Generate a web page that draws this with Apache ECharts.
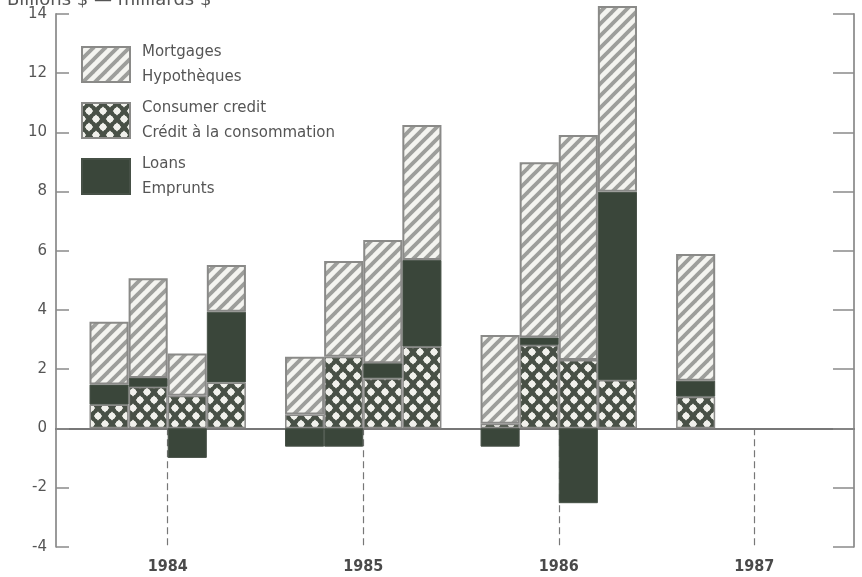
<!DOCTYPE html>
<html>
<head>
<meta charset="utf-8">
<script src="https://cdn.jsdelivr.net/npm/echarts@6/dist/echarts.min.js"></script>
<style>
  html, body { margin: 0; padding: 0; background: #ffffff; }
  #chart { width: 862px; height: 577px; }
</style>
</head>
<body>
<div id="chart"></div>
<script>
// ---------------- DATA ----------------
// One slot per quarter; an empty slot separates the years.
const categories = [
  '1984 Q1', '1984 Q2', '1984 Q3', '1984 Q4', '',
  '1985 Q1', '1985 Q2', '1985 Q3', '1985 Q4', ' ',
  '1986 Q1', '1986 Q2', '1986 Q3', '1986 Q4', '  ',
  '1987 Q1', '1987 Q2', '1987 Q3', '1987 Q4'
];
const consumerCredit = [0.80, 1.40, 1.10, 1.55, '-', 0.47, 2.42, 1.69, 2.76, '-', 0.15, 2.81, 2.31, 1.63, '-', 1.07, '-', '-', '-'];
const loans          = [0.68, 0.30, -1.00, 2.39, '-', -0.62, -0.62, 0.51, 2.93, '-', -0.62, 0.26, -2.53, 6.36, '-', 0.54, '-', '-', '-'];
const mortgages      = [2.12, 3.37, 1.43, 1.58, '-', 1.95, 3.23, 4.16, 4.56, '-', 3.00, 5.92, 7.60, 6.28, '-', 4.28, '-', '-', '-'];
const years = ['1984', '1985', '1986', '1987'];
const yTicks = { min: -4, max: 14, interval: 2 };
const seriesNames = ['Mortgages', 'Consumer credit', 'Loans'];
const legendText = {
  'Mortgages': 'Mortgages\nHypothèques',
  'Consumer credit': 'Consumer credit\nCrédit à la consommation',
  'Loans': 'Loans\nEmprunts'
};
const axisTitle = 'Billions $ — milliards $';

// ---------------- LAYOUT ----------------
const FRAME_LEFT = 56, FRAME_RIGHT = 854, GRID_TOP = 13.9, GRID_BOTTOM = 30.3;
const BAR_LEFT = 89.5, BAR_WIDTH = 743;
const SLOT = BAR_WIDTH / categories.length;
const frameMin = (FRAME_LEFT - BAR_LEFT) / SLOT;
const frameMax = (FRAME_RIGHT - BAR_LEFT) / SLOT;
// year tick = boundary between Q2 and Q3 of that year (slot coordinates)
const yearPos = years.map(y => categories.indexOf(y + ' Q3'));

// ---------------- PATTERNS ----------------
function hatchPattern() {
  const s = 12;
  const c = document.createElement('canvas');
  c.width = s; c.height = s;
  const g = c.getContext('2d');
  g.fillStyle = '#f4f4f0'; g.fillRect(0, 0, s, s);
  g.strokeStyle = '#9d9e9b'; g.lineWidth = 3.8; g.lineCap = 'square';
  [-s, 0, s].forEach(o => { g.beginPath(); g.moveTo(o - 3, s + 3); g.lineTo(o + s + 3, -3); g.stroke(); });
  return c;
}
function crossPattern() {
  const w = 14, h = 16;
  const c = document.createElement('canvas');
  c.width = w; c.height = h;
  const g = c.getContext('2d');
  g.fillStyle = '#485046'; g.fillRect(0, 0, w, h);
  g.fillStyle = '#f1f1ec';
  const hole = (x, y) => {
    g.beginPath();
    g.moveTo(x, y - 4.6); g.lineTo(x + 4.2, y); g.lineTo(x, y + 4.6); g.lineTo(x - 4.2, y);
    g.closePath(); g.fill();
    g.beginPath(); g.arc(x, y, 3.2, 0, Math.PI * 2); g.fill();
  };
  hole(w / 2, h / 2); hole(0, 0); hole(w, 0); hole(0, h); hole(w, h);
  return c;
}
const hatchFill = { image: hatchPattern(), repeat: 'repeat' };
const crossFill = { image: crossPattern(), repeat: 'repeat' };
const loanColor = '#3a463a';

const FONT = 'DejaVu Sans';
const chart = echarts.init(document.getElementById('chart'), null, { renderer: 'canvas' });

chart.setOption({
  animation: false,
  backgroundColor: '#ffffff',
  graphic: [{
    type: 'text', left: 7, top: -9,
    style: { text: axisTitle, font: '18px "DejaVu Sans"', fill: '#555' }
  }],
  legend: {
    data: seriesNames,
    orient: 'vertical',
    left: 81, top: 39.5,
    padding: 0,
    icon: 'rect',
    itemWidth: 48, itemHeight: 35,
    itemGap: 6,
    selectedMode: false,
    textStyle: { fontFamily: FONT, fontSize: 15, color: '#555', lineHeight: 25, padding: [0, 0, 0, 7] },
    formatter: n => legendText[n]
  },
  grid: [
    { left: FRAME_LEFT, right: 862 - FRAME_RIGHT, top: GRID_TOP, bottom: GRID_BOTTOM },
    { left: BAR_LEFT, width: BAR_WIDTH, top: GRID_TOP, bottom: GRID_BOTTOM }
  ],
  xAxis: [
    { gridIndex: 0, type: 'value', min: frameMin, max: frameMax, position: 'top',
      axisLine: { show: true, onZero: true, lineStyle: { color: '#777', width: 2 } },
      axisTick: { show: false }, axisLabel: { show: false }, splitLine: { show: false } },
    { gridIndex: 0, type: 'value', min: frameMin, max: frameMax, position: 'bottom',
      axisLine: { show: false, onZero: false }, axisTick: { show: false }, splitLine: { show: false },
      axisLabel: {
        customValues: yearPos,
        formatter: v => years[yearPos.indexOf(Math.round(v))] || '',
        fontFamily: '"DejaVu Sans Condensed", "DejaVu Sans"', fontWeight: 'bold', fontSize: 16,
        color: '#4a4a4a', margin: 12
      } },
    { gridIndex: 1, type: 'category', data: categories, show: false }
  ],
  yAxis: [
    { gridIndex: 0, type: 'value', position: 'left', min: yTicks.min, max: yTicks.max, interval: yTicks.interval,
      axisLine: { show: true, onZero: false, lineStyle: { color: '#9a9a9a', width: 2 } },
      axisTick: { show: true, inside: true, length: 13, lineStyle: { color: '#8a8a8a', width: 1.5 } },
      axisLabel: { fontFamily: FONT, fontSize: 15, color: '#555', margin: 9 },
      splitLine: { show: false } },
    { gridIndex: 0, type: 'value', position: 'right', min: yTicks.min, max: yTicks.max, interval: yTicks.interval,
      axisLine: { show: true, onZero: false, lineStyle: { color: '#9a9a9a', width: 2 } },
      axisTick: { show: true, inside: true, length: 21, lineStyle: { color: '#8a8a8a', width: 1.5 } },
      axisLabel: { show: false }, splitLine: { show: false } },
    { gridIndex: 1, type: 'value', min: yTicks.min, max: yTicks.max, interval: yTicks.interval, show: false }
  ],
  series: [
    {
      type: 'lines', coordinateSystem: 'cartesian2d', xAxisIndex: 0, yAxisIndex: 0, z: 1,
      silent: true,
      lineStyle: { color: '#777', width: 1.2, type: [7, 4], opacity: 1 },
      data: yearPos.map(p => ({ coords: [[p, 0], [p, yTicks.min]] }))
    },
    {
      name: 'Consumer credit', type: 'bar', stack: 'total', xAxisIndex: 2, yAxisIndex: 2,
      barWidth: '100%', barCategoryGap: '0%', clip: false, z: 3,
      itemStyle: { color: crossFill, borderColor: '#8a8a88', borderWidth: 1.5 },
      data: consumerCredit
    },
    {
      name: 'Loans', type: 'bar', stack: 'total', xAxisIndex: 2, yAxisIndex: 2,
      barWidth: '100%', barCategoryGap: '0%', clip: false, z: 3,
      itemStyle: { color: loanColor, borderColor: '#465046', borderWidth: 1 },
      data: loans
    },
    {
      name: 'Mortgages', type: 'bar', stack: 'total', xAxisIndex: 2, yAxisIndex: 2,
      barWidth: '100%', barCategoryGap: '0%', clip: false, z: 3,
      itemStyle: { color: hatchFill, borderColor: '#8a8a88', borderWidth: 2 },
      data: mortgages
    }
  ]
});
</script>
</body>
</html>
